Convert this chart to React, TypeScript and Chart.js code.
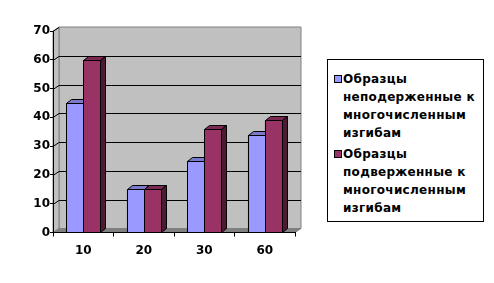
import React, { useEffect, useRef } from "react";
import { Chart, registerables } from "chart.js";

Chart.register(...registerables);

const categories = ["10", "20", "30", "60"];
const seriesNotExposed = [45, 15, 25, 34];
const seriesExposed = [60, 15, 36, 39];
const legendNotExposed = ["Образцы", "неподерженные к", "многочисленным", "изгибам"];
const legendExposed = ["Образцы", "подверженные к", "многочисленным", "изгибам"];
const yMin = 0;
const yMax = 70;
const yStep = 10;

const FRONT = ["#9999ff", "#993366"];
const TOP = ["#7a7acc", "#7a2952"];
const SIDE = ["#4d4d80", "#4d1a33"];

const WALL_DX = 6;
const WALL_DY = 4;
const BAR_DX = 5;
const BAR_DY = 4;

function poly(ctx: CanvasRenderingContext2D, pts: number[][], fill: string, stroke: string | null) {
  ctx.beginPath();
  ctx.moveTo(pts[0][0], pts[0][1]);
  for (let i = 1; i < pts.length; i++) ctx.lineTo(pts[i][0], pts[i][1]);
  ctx.closePath();
  ctx.fillStyle = fill;
  ctx.fill();
  if (stroke) {
    ctx.strokeStyle = stroke;
    ctx.lineWidth = 1;
    ctx.stroke();
  }
}

const threeD = {
  id: "threeD",
  beforeDraw(chart: any) {
    const { ctx, chartArea } = chart;
    const { left, right, top, bottom } = chartArea;
    const y = chart.scales.y;
    ctx.save();
    poly(
      ctx,
      [
        [left + WALL_DX, top - WALL_DY],
        [right + WALL_DX, top - WALL_DY],
        [right + WALL_DX, bottom - WALL_DY],
        [left + WALL_DX, bottom - WALL_DY],
      ],
      "#c0c0c0",
      "#808080"
    );
    poly(
      ctx,
      [
        [left, top],
        [left + WALL_DX, top - WALL_DY],
        [left + WALL_DX, bottom - WALL_DY],
        [left, bottom],
      ],
      "#c0c0c0",
      "#808080"
    );
    poly(
      ctx,
      [
        [left, bottom],
        [right, bottom],
        [right + WALL_DX, bottom - WALL_DY],
        [left + WALL_DX, bottom - WALL_DY],
      ],
      "#808080",
      "#808080"
    );
    ctx.strokeStyle = "#000";
    ctx.lineWidth = 1;
    y.ticks.forEach((t: any) => {
      if (t.value <= yMin) return;
      const py = Math.round(y.getPixelForValue(t.value)) + 0.5;
      ctx.beginPath();
      ctx.moveTo(left, py);
      ctx.lineTo(left + WALL_DX, py - WALL_DY);
      if (t.value < yMax) ctx.lineTo(right + WALL_DX, py - WALL_DY);
      ctx.stroke();
    });
    ctx.restore();
  },
  afterDatasetsDraw(chart: any) {
    const { ctx } = chart;
    ctx.save();
    const n = chart.data.labels.length;
    for (let i = 0; i < n; i++) {
      chart.data.datasets.forEach((_: any, d: number) => {
        const el = chart.getDatasetMeta(d).data[i];
        const { x, y, base, width } = el.getProps(["x", "y", "base", "width"], true);
        const l = Math.round(x - width / 2) + 0.5;
        const r = Math.round(x + width / 2) + 0.5;
        const t = Math.round(y) + 0.5;
        const b = Math.round(base) + 0.5;
        poly(ctx, [[l, t], [r, t], [r, b], [l, b]], FRONT[d], "#000");
        poly(ctx, [[l, t], [r, t], [r + BAR_DX, t - BAR_DY], [l + BAR_DX, t - BAR_DY]], TOP[d], "#000");
        poly(ctx, [[r, t], [r + BAR_DX, t - BAR_DY], [r + BAR_DX, b - BAR_DY], [r, b]], SIDE[d], "#000");
      });
    }
    ctx.restore();
  },
};

const tickFont = { family: "DejaVu Sans", size: 12, weight: "bold" as const };

export default function App() {
  const canvasRef = useRef<HTMLCanvasElement | null>(null);

  useEffect(() => {
    document.body.style.margin = "0";
    const canvas = canvasRef.current!;
    const chart = new Chart(canvas, {
      type: "bar",
      data: {
        labels: categories,
        datasets: [
          {
            label: legendNotExposed.join(" "),
            data: seriesNotExposed,
            backgroundColor: FRONT[0],
            borderColor: "#000",
            borderWidth: 1,
            barPercentage: 1,
            categoryPercentage: 0.56,
          },
          {
            label: legendExposed.join(" "),
            data: seriesExposed,
            backgroundColor: FRONT[1],
            borderColor: "#000",
            borderWidth: 1,
            barPercentage: 1,
            categoryPercentage: 0.56,
          },
        ],
      },
      options: {
        responsive: false,
        animation: false,
        layout: { padding: { left: 20, top: 31, right: 199, bottom: 0 } },
        plugins: {
          legend: { display: false },
          tooltip: { enabled: false },
        },
        scales: {
          x: {
            grid: { display: true, drawOnChartArea: false, drawTicks: true, tickLength: 4, color: "#000", offset: true },
            border: { display: true, color: "#000" },
            ticks: { color: "#000", font: tickFont, padding: 7 },
            afterFit: (s: any) => {
              s.height = 50.5;
            },
          },
          y: {
            min: yMin,
            max: yMax,
            grid: { display: true, drawOnChartArea: false, drawTicks: true, tickLength: 3, color: "#000" },
            border: { display: true, color: "#000" },
            ticks: { stepSize: yStep, color: "#000", font: tickFont, padding: 0 },
            afterFit: (s: any) => {
              s.width = 33;
            },
          },
        },
      },
      plugins: [threeD],
    });
    return () => chart.destroy();
  }, []);

  const legendItems = [
    { lines: legendNotExposed, color: FRONT[0] },
    { lines: legendExposed, color: FRONT[1] },
  ];

  return (
    <div style={{ position: "fixed", left: 0, top: 0, width: 494, height: 283, background: "#fff" }}>
      <canvas ref={canvasRef} width={494} height={283} style={{ position: "absolute", left: 0, top: 0 }} />
      <div
        style={{
          position: "absolute",
          left: 327,
          top: 59,
          width: 155,
          height: 161,
          border: "1px solid #000",
          background: "#fff",
          fontFamily: "DejaVu Sans",
          fontWeight: "bold",
          fontSize: 12,
          letterSpacing: "0.3px",
          color: "#000",
          boxSizing: "content-box",
        }}
      >
        {legendItems.map((it, k) => (
          <div key={k} style={{ position: "absolute", left: 0, top: k === 0 ? 10 : 85, width: 155 }}>
            <div
              style={{
                position: "absolute",
                left: 6,
                top: 5,
                width: 6,
                height: 6,
                background: it.color,
                border: "1px solid #000",
              }}
            />
            {it.lines.map((ln, j) => (
              <div
                key={j}
                style={{ position: "absolute", left: 15, top: j * 18, height: 18, lineHeight: "18px", whiteSpace: "nowrap" }}
              >
                {ln}
              </div>
            ))}
          </div>
        ))}
      </div>
    </div>
  );
}
